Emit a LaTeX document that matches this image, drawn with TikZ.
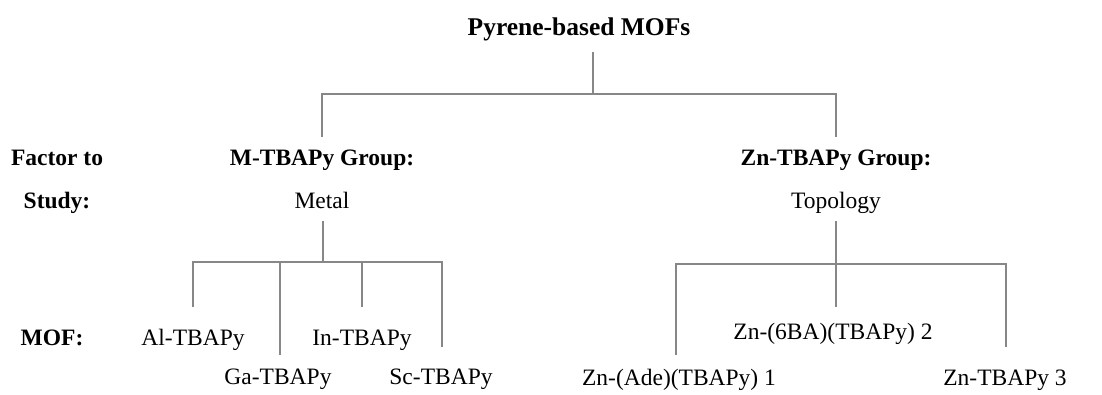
\documentclass[tikz,border=0pt]{standalone}
\usepackage{fontspec}
\setmainfont{Liberation Serif}
\begin{document}
\begin{tikzpicture}[x=1pt,y=-1pt,
  lbl/.style={anchor=base,inner sep=0pt,font=\fontsize{23.5}{28}\selectfont},
  blbl/.style={lbl,font=\fontsize{23.5}{28}\selectfont\bfseries},
  conn/.style={draw=black!47,line width=1.4pt}]
\useasboundingbox (0,0) rectangle (1102,394);
% text nodes
\node[blbl,font=\fontsize{25.5}{30}\selectfont\bfseries] (title) at (579,35) {Pyrene-based MOFs};
\node[blbl] (mgrp) at (322,165) {M-TBAPy Group:};
\node[blbl] (zgrp) at (836,165) {Zn-TBAPy Group:};
\node[blbl,align=center] (factor) at (57,208) {Factor to\\[15pt]Study:};
\node[lbl] (metal) at (322,208) {Metal};
\node[lbl] (topo) at (836,208) {Topology};
\node[blbl] (mof) at (52,345) {MOF:};
\node[lbl] (al) at (193,345) {Al-TBAPy};
\node[lbl] (in) at (362,345) {In-TBAPy};
\node[lbl] (ga) at (278,384) {Ga-TBAPy};
\node[lbl] (sc) at (441,384) {Sc-TBAPy};
\node[lbl] (zn2) at (833,339) {Zn-(6BA)(TBAPy) 2};
\node[lbl] (zn1) at (679,385) {Zn-(Ade)(TBAPy) 1};
\node[lbl] (zn3) at (1005,385) {Zn-TBAPy 3};
% junction coordinates
\coordinate (t0) at (593,52);
\coordinate (t1) at (593,94);
\coordinate (bl) at (322,94);
\coordinate (br) at (836,94);
\coordinate (ml) at (322,137);
\coordinate (mr) at (836,137);
\coordinate (m0) at (323,221);
\coordinate (m1) at (323,262);
\coordinate (a0) at (193,262);
\coordinate (a1) at (193,307);
\coordinate (g0) at (280,262);
\coordinate (g1) at (280,355);
\coordinate (i0) at (362,262);
\coordinate (i1) at (362,307);
\coordinate (s0) at (442,262);
\coordinate (s1) at (442,347);
\coordinate (z0) at (836,221);
\coordinate (z1) at (836,307);
\coordinate (za) at (676,264);
\coordinate (za1) at (676,355);
\coordinate (zc) at (1006,264);
\coordinate (zc1) at (1006,347);
% connectors
\draw[conn] (t0) -- (t1);
\draw[conn] (ml) -- (bl) -- (br) -- (mr);
\draw[conn] (m0) -- (m1);
\draw[conn] (a1) -- (a0) -- (s0) -- (s1);
\draw[conn] (g0) -- (g1);
\draw[conn] (i0) -- (i1);
\draw[conn] (z0) -- (z1);
\draw[conn] (za1) -- (za) -- (zc) -- (zc1);
\end{tikzpicture}
\end{document}
